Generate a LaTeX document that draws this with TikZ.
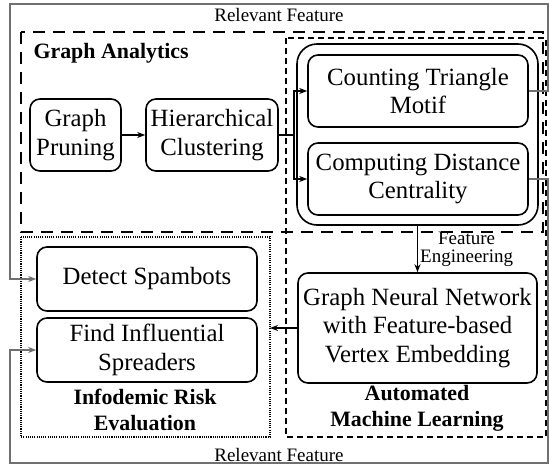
\documentclass[tikz,border=0pt]{standalone}
\usepackage{fontspec}
\setmainfont{Liberation Serif}
\usetikzlibrary{arrows.meta,positioning}
\definecolor{loopgray}{RGB}{112,112,112}
\tikzset{
    block/.style={rectangle, draw, rounded corners=10pt, line width=1.6pt,
        align=center, inner sep=0pt, font=\fontsize{24.8}{28.5}\selectfont},
    title/.style={align=center, font=\fontsize{21.9}{26}\selectfont\bfseries},
    small/.style={align=center, font=\fontsize{19}{18}\selectfont},
    flow/.style={draw, line width=1.4pt, -{Stealth[length=8pt,width=6pt]}},
    feedback/.style={draw=loopgray, line width=1.5pt, -{Stealth[length=8pt,width=6pt]}},
    gaframe/.style={draw, line width=1.8pt, dash pattern=on 12pt off 8pt},
    amlframe/.style={draw, line width=1.5pt, dash pattern=on 6pt off 4pt},
    ireframe/.style={draw, line width=1.1pt, dash pattern=on 1.1pt off 1.1pt},
}
\begin{document}
\begin{tikzpicture}[x=1pt, y=-1pt]
\useasboundingbox (0,0) rectangle (549,466);

% frames
\draw[gaframe] (21,32) rectangle (543,232);
\draw[amlframe] (286,38) rectangle (546,437);
\draw[ireframe] (21,237) rectangle (270,437);

\node[title, anchor=west] (gatitle) at (30,53) {Graph Analytics};
\node[title] (iretitle) at (145,410) {Infodemic Risk\\Evaluation};
\node[title] (amltitle) at (417,408) {Automated\\Machine Learning};

% blocks
\node[block, minimum width=91, minimum height=72] (prune) at (75.5,135) {Graph\\Pruning};
\node[block, minimum width=132, minimum height=72] (hier) at (212,135) {Hierarchical\\Clustering};
\node[block, rounded corners=20pt, minimum width=241, minimum height=181] (feat) at (417.5,134.5) {};
\node[block, minimum width=220, minimum height=72] (tri) at (418,91) {Counting Triangle\\Motif};
\node[block, minimum width=220, minimum height=72] (dist) at (418,179) {Computing Distance\\Centrality};
\node[block, minimum width=239, minimum height=110] (gnn) at (417.5,328) {Graph Neural Network\\with Feature-based\\Vertex Embedding};
\node[block, minimum width=220, minimum height=64] (spam) at (147,279) {Detect Spambots};
\node[block, minimum width=220, minimum height=64] (spread) at (147,350) {Find Influential\\Spreaders};

\coordinate (ireeast) at (270,328);
\coordinate (ne) at (548,4);
\coordinate (nw) at (10,4);
\coordinate (se) at (548,463);
\coordinate (sw) at (10,463);

% connectors
\draw[flow] (prune) -- (hier);
\draw[flow] (hier.east) -- ++(15,0) |- (tri.west);
\draw[flow] (hier.east) -- ++(15,0) |- (dist.west);
\draw[flow] (feat.south) -- node[right, small, inner sep=2pt] {Feature\\Engineering} (gnn.north);
\draw[flow] (gnn.west) -- (ireeast);

% relevant feature loops
\draw[feedback] (tri.east) -- (tri.east -| ne) -- (ne)
    -- node[below, small, inner sep=4pt, text=black] {Relevant Feature} (nw)
    -- (nw |- spam.west) -- (spam.west);
\draw[feedback] (dist.east) -- (dist.east -| se) -- (se)
    -- node[above, small, inner sep=1pt, text=black] {Relevant Feature} (sw)
    -- (sw |- spread.west) -- (spread.west);
\end{tikzpicture}
\end{document}
